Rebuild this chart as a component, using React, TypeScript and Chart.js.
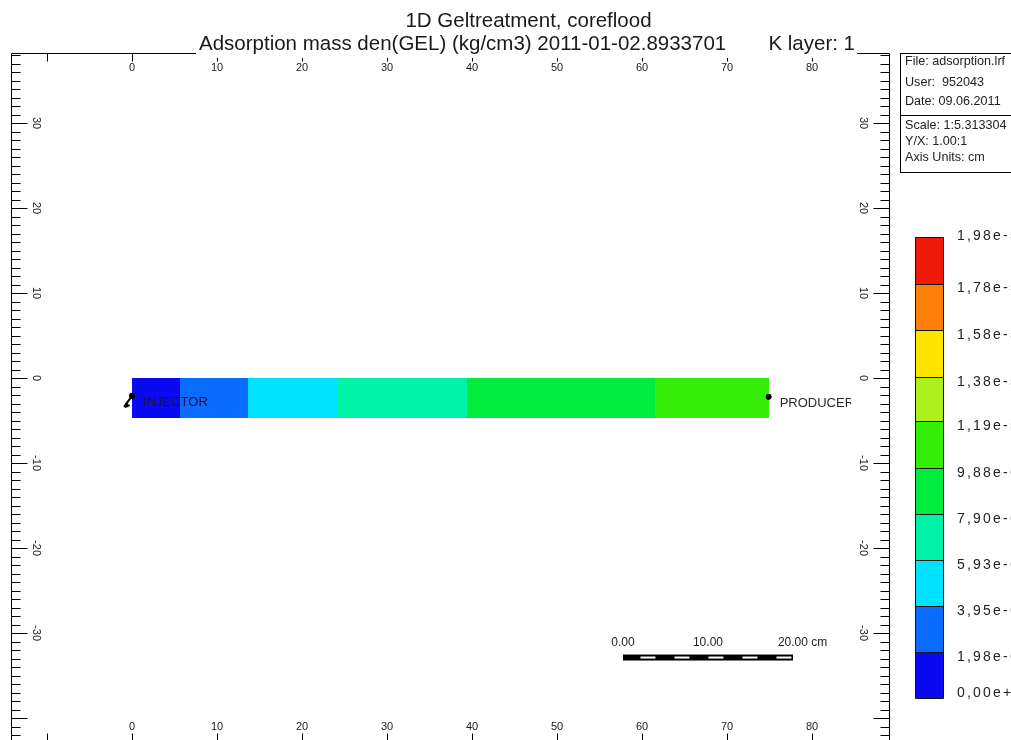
import React, { useEffect, useRef } from "react";
import { Chart, registerables } from "chart.js";

Chart.register(...registerables);

// ---------------- data ----------------
const titleLine1 = "1D Geltreatment, coreflood";
const titleLine2 = "Adsorption mass den(GEL) (kg/cm3) 2011-01-02.8933701";
const titleLayer = "K layer: 1";

// core grid blocks (cm) and their adsorption values
const segmentEdges = [0, 5.7, 13.6, 24.2, 39.4, 61.5, 75];
const segmentValues = [1.0e-6, 2.9e-6, 4.9e-6, 6.9e-6, 8.8e-6, 1.08e-5];
const coreTop = 0;
const coreBottom = -4.7;

// colour scale
const levelValues = [0, 1.98e-6, 3.95e-6, 5.93e-6, 7.9e-6, 9.88e-6, 1.19e-5, 1.38e-5, 1.58e-5, 1.78e-5, 1.98e-5];
const levelLabels = ["0,00e+0", "1,98e-6", "3,95e-6", "5,93e-6", "7,90e-6", "9,88e-6", "1,19e-5", "1,38e-5", "1,58e-5", "1,78e-5", "1,98e-5"];
const levelColors = ["#0a0af2", "#0a6cff", "#00e2ff", "#00f2a6", "#00ec3e", "#34ee08", "#acf01e", "#ffe400", "#ff8008", "#f01a0a"];

// wells
const wellNames = ["INJECTOR", "PRODUCER"];
const wellX = [0, 74.9];
const wellY = [-2.1, -2.2];

// axes
const xTickValues = [-10, 0, 10, 20, 30, 40, 50, 60, 70, 80];
const xTickLabels = ["", "0", "10", "20", "30", "40", "50", "60", "70", "80"];
const yTickValues = [-40, -30, -20, -10, 0, 10, 20, 30];
const yTickLabels = ["", "-30", "-20", "-10", "0", "10", "20", "30"];
const xRange = [-14.24, 89.06];
const yRange = [-42.7, 38.24];

// info box
const infoTop = ["File: adsorption.lrf", "User:  952043", "Date: 09.06.2011"];
const infoBottom = ["Scale: 1:5.313304", "Y/X: 1.00:1", "Axis Units: cm"];

// scale bar (cm)
const scaleBarStart = [57.76, -32.88];
const scaleBarLength = 20;
const scaleBarLabels = ["0.00", "10.00", "20.00"];
const scaleBarUnit = " cm";

// ---------------- helpers ----------------
const SANS = "'Liberation Sans', Arial, 'Noto Sans', sans-serif";

function colorFor(v: number): string {
  for (let i = 0; i < levelColors.length; i++) {
    if (v >= levelValues[i] && v < levelValues[i + 1]) return levelColors[i];
  }
  return levelColors[levelColors.length - 1];
}

// draws the core grid blocks through the chart scales (pixel-snapped so blocks meet without seams)
const corePlugin = {
  id: "coreBlocks",
  beforeDatasetsDraw(chart: any) {
    const ctx: CanvasRenderingContext2D = chart.ctx;
    const xs = chart.scales.x;
    const ys = chart.scales.y;
    const yTop = Math.round(ys.getPixelForValue(coreTop));
    const yBot = Math.round(ys.getPixelForValue(coreBottom));
    ctx.save();
    segmentValues.forEach((v, i) => {
      const x0 = Math.round(xs.getPixelForValue(segmentEdges[i]));
      const x1 = Math.round(xs.getPixelForValue(segmentEdges[i + 1]));
      ctx.fillStyle = colorFor(v);
      ctx.fillRect(x0, yTop, x1 - x0, yBot - yTop);
    });
    ctx.restore();
  },
};

const overlayPlugin = {
  id: "overlay",
  afterDraw(chart: any) {
    const ctx: CanvasRenderingContext2D = chart.ctx;
    const xs = chart.scales.x;
    const ys = chart.scales.y;
    const ca = chart.chartArea;
    const L = Math.floor(ca.left) + 0.5;
    const R = Math.floor(ca.right) + 0.5;
    const T = Math.floor(ca.top) + 0.5;
    const B = Math.floor(ca.bottom) + 0.5;
    ctx.save();
    ctx.strokeStyle = "#000";
    ctx.lineWidth = 1;

    // frame
    ctx.beginPath();
    ctx.moveTo(L, B);
    ctx.lineTo(L, T);
    ctx.lineTo(R, T);
    ctx.lineTo(R, B);
    ctx.stroke();

    // vertical axes minor/major ticks
    ctx.beginPath();
    for (let v = Math.ceil(yRange[0]); v <= Math.floor(yRange[1]); v++) {
      const y = Math.round(ys.getPixelForValue(v)) + 0.5;
      const len = v % 10 === 0 ? 16 : 9;
      ctx.moveTo(L, y);
      ctx.lineTo(L + len, y);
      ctx.moveTo(R, y);
      ctx.lineTo(R - len, y);
    }
    // horizontal axes ticks
    xTickValues.forEach((v) => {
      const x = Math.round(xs.getPixelForValue(v)) + 0.5;
      ctx.moveTo(x, T);
      ctx.lineTo(x, T + 8);
      ctx.moveTo(x, B);
      ctx.lineTo(x, B - 8);
    });
    ctx.stroke();

    // tick labels
    ctx.fillStyle = "#222";
    ctx.font = "11px " + SANS;
    ctx.textAlign = "center";
    ctx.textBaseline = "middle";
    xTickValues.forEach((v, i) => {
      const x = xs.getPixelForValue(v);
      ctx.fillText(xTickLabels[i], x, T + 14);
      ctx.fillText(xTickLabels[i], x, B - 15);
    });
    yTickValues.forEach((v, i) => {
      const y = ys.getPixelForValue(v);
      [L + 25, R - 26].forEach((x) => {
        ctx.save();
        ctx.translate(x, y);
        ctx.rotate(Math.PI / 2);
        ctx.fillText(yTickLabels[i], 0, 0);
        ctx.restore();
      });
    });

    // titles (line 2 masks the top frame)
    ctx.fillStyle = "#fff";
    ctx.fillRect(196, 30, 661, 28);
    ctx.fillStyle = "#1a1a1a";
    ctx.font = "20.5px " + SANS;
    ctx.textBaseline = "alphabetic";
    ctx.textAlign = "center";
    ctx.fillText(titleLine1, 528.5, 27);
    ctx.textAlign = "left";
    ctx.fillText(titleLine2, 199, 50);
    ctx.textAlign = "right";
    ctx.fillText(titleLayer, 855, 50);

    // wells: labels + injector arrow
    const meta = chart.getDatasetMeta(0);
    meta.data.forEach((pt: any, i: number) => {
      const px = pt.x;
      const py = pt.y;
      ctx.save();
      ctx.beginPath();
      ctx.rect(0, 0, 851, 740);
      ctx.clip();
      ctx.fillStyle = i === 0 ? "#14143c" : "#2a2a2a";
      ctx.font = "13px " + SANS;
      ctx.textAlign = "left";
      ctx.textBaseline = "middle";
      ctx.fillText(wellNames[i], px + 11, py + 6.5);
      ctx.restore();
      if (i === 0) {
        const ex = px - 8;
        const ey = py + 11;
        ctx.strokeStyle = "#000";
        ctx.lineWidth = 2;
        ctx.beginPath();
        ctx.moveTo(px, py);
        ctx.lineTo(ex, ey);
        ctx.stroke();
        const ang = Math.atan2(ey - py, ex - px);
        ctx.fillStyle = "#000";
        ctx.beginPath();
        ctx.moveTo(ex + 1, ey + 1.4);
        ctx.lineTo(ex + 1 - 6 * Math.cos(ang - 0.5), ey + 1.4 - 6 * Math.sin(ang - 0.5));
        ctx.lineTo(ex + 1 - 6 * Math.cos(ang + 0.5), ey + 1.4 - 6 * Math.sin(ang + 0.5));
        ctx.closePath();
        ctx.fill();
      }
      ctx.fillStyle = "#000";
      ctx.beginPath();
      ctx.arc(px, py, 2.8, 0, Math.PI * 2);
      ctx.fill();
    });

    // scale bar
    const sx0 = xs.getPixelForValue(scaleBarStart[0]);
    const sx1 = xs.getPixelForValue(scaleBarStart[0] + scaleBarLength);
    const sy = ys.getPixelForValue(scaleBarStart[1]);
    ctx.fillStyle = "#000";
    ctx.fillRect(sx0, sy - 3, sx1 - sx0, 6);
    const seg = (sx1 - sx0) / 10;
    ctx.fillStyle = "#fff";
    for (let k = 0; k < 5; k++) {
      const a = sx0 + (2 * k + 1) * seg + 0.5;
      ctx.fillRect(a, sy - 1, seg - 2, 2);
    }
    ctx.fillStyle = "#222";
    ctx.font = "12px " + SANS;
    ctx.textBaseline = "middle";
    scaleBarLabels.forEach((lab, i) => {
      const x = sx0 + (i * (sx1 - sx0)) / (scaleBarLabels.length - 1);
      const w = ctx.measureText(lab).width;
      ctx.textAlign = "left";
      ctx.fillText(i === scaleBarLabels.length - 1 ? lab + scaleBarUnit : lab, x - w / 2, sy - 14.5);
    });

    // info box
    ctx.strokeStyle = "#000";
    ctx.lineWidth = 1;
    ctx.strokeRect(900.5, 53.5, 140, 119);
    ctx.beginPath();
    ctx.moveTo(900.5, 115.5);
    ctx.lineTo(1011, 115.5);
    ctx.stroke();
    ctx.fillStyle = "#222";
    ctx.font = "12.6px " + SANS;
    ctx.textAlign = "left";
    ctx.textBaseline = "middle";
    const topYs = [62, 82.5, 102];
    const botYs = [126, 142, 158];
    infoTop.forEach((t, i) => ctx.fillText(t, 905, topYs[i]));
    infoBottom.forEach((t, i) => ctx.fillText(t, 905, botYs[i]));

    // colour bar
    const cbL = 915, cbR = 943, cbT = 237, cbB = 698;
    const vMin = levelValues[0];
    const vMax = levelValues[levelValues.length - 1];
    const yFor = (v: number) => cbB - ((v - vMin) / (vMax - vMin)) * (cbB - cbT);
    for (let i = 0; i < levelColors.length; i++) {
      const y0 = Math.round(yFor(levelValues[i]));
      const y1 = Math.round(yFor(levelValues[i + 1]));
      ctx.fillStyle = levelColors[i];
      ctx.fillRect(cbL, y1, cbR - cbL, y0 - y1);
    }
    ctx.strokeStyle = "#111";
    ctx.beginPath();
    ctx.rect(cbL + 0.5, cbT + 0.5, cbR - cbL, cbB - cbT);
    for (let i = 1; i < levelColors.length; i++) {
      const y = Math.round(yFor(levelValues[i])) + 0.5;
      ctx.moveTo(cbL, y);
      ctx.lineTo(cbR, y);
    }
    ctx.stroke();
    ctx.fillStyle = "#222";
    ctx.font = "14px " + SANS;
    (ctx as any).letterSpacing = "2.2px";
    ctx.textAlign = "left";
    ctx.textBaseline = "middle";
    levelLabels.forEach((lab, i) => {
      let y = yFor(levelValues[i]) + 5;
      if (i === 0) y = cbB - 5;
      if (i === levelLabels.length - 1) y = cbT - 1;
      ctx.fillText(lab, 957, y);
    });
    (ctx as any).letterSpacing = "0px";
    ctx.restore();
  },
};

export default function App() {
  const ref = useRef<HTMLCanvasElement>(null);
  useEffect(() => {
    const wellDataset = {
      type: "scatter" as const,
      data: wellX.map((x, i) => ({ x, y: wellY[i] })),
      pointRadius: 2.8,
      backgroundColor: "#000",
      borderColor: "#000",
      borderWidth: 0,
      showLine: false,
    };
    const chart = new Chart(ref.current!, {
      type: "scatter",
      data: { datasets: [wellDataset] as any },
      options: {
        animation: false,
        responsive: false,
        maintainAspectRatio: false,
        layout: { padding: { left: 11, top: 53, right: 122, bottom: 9 } },
        scales: {
          x: { type: "linear", min: xRange[0], max: xRange[1], display: false },
          y: { type: "linear", min: yRange[0], max: yRange[1], display: false },
        },
        plugins: {
          legend: { display: false },
          tooltip: { enabled: false },
          title: { display: false },
        },
        events: [],
      },
      plugins: [corePlugin, overlayPlugin],
    });
    return () => chart.destroy();
  }, []);
  return (
    <div
      style={{
        position: "fixed",
        left: 0,
        top: 0,
        width: 1011,
        height: 740,
        overflow: "hidden",
        background: "#fff",
      }}
    >
      <canvas ref={ref} width={1011} height={750} style={{ display: "block", width: 1011, height: 750 }} />
    </div>
  );
}
